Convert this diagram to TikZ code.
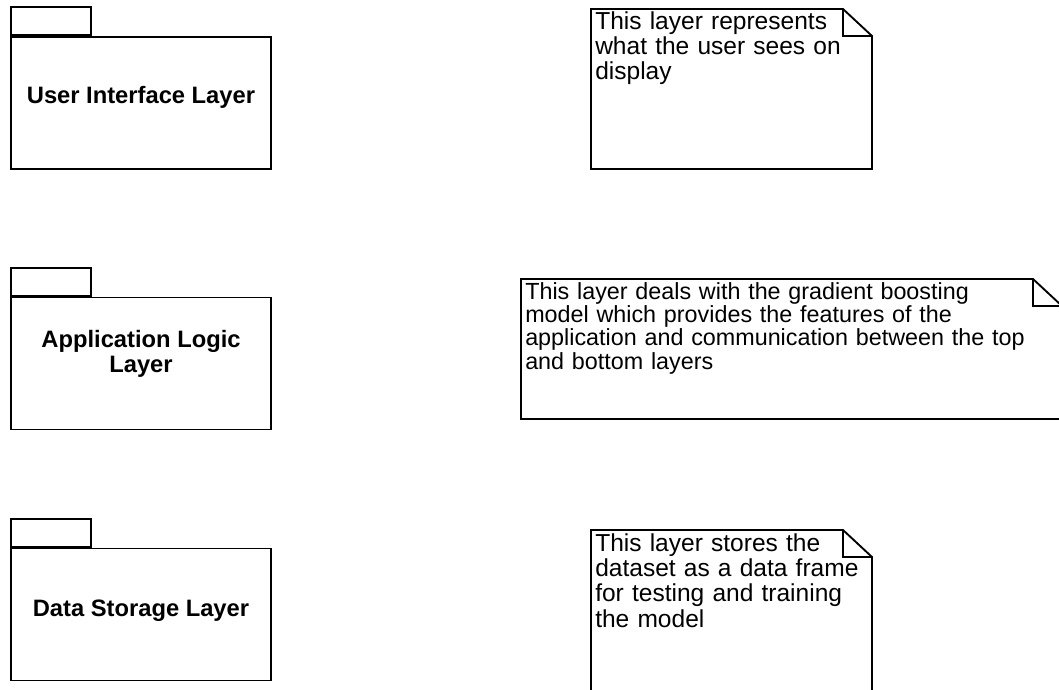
\documentclass[tikz,border=0pt]{standalone}
\usepackage{fontspec}
\setmainfont{Liberation Sans}
\begin{document}
\begin{tikzpicture}[x=0.75pt,y=-0.75pt,
  outline/.style={draw=black, line width=1.4pt, line join=miter},
  pkgbody/.style={outline, rectangle, inner sep=0pt, minimum width=195pt, minimum height=99pt},
  pkgtab/.style={outline, rectangle, inner sep=0pt, minimum width=60pt, minimum height=21pt, anchor=south west},
  pkglabel/.style={font=\fontsize{17.8pt}{19.1pt}\selectfont\bfseries, align=center, inner sep=0pt, anchor=base},
  notetext/.style={font=\fontsize{18.4pt}{19.1pt}\selectfont, text width=480pt, align=left, inner sep=0pt, anchor=base west},
  smallnotetext/.style={notetext, font=\fontsize{17.5pt}{17.6pt}\selectfont},
  notefold/.style={outline}
]
\clip (0,0) rectangle (1059,689);

% ---- packages (left column) ----
\node[pkgbody] (uibody) at (141,103) {};
\node[pkgtab] (uitab) at (uibody.north west) {};
\node[pkglabel] (uilabel) at (141,103.5) {User Interface Layer};

\node[pkgbody] (albody) at (141,363.5) {};
\node[pkgtab] (altab) at (albody.north west) {};
% two-line label: the base anchor sits on the last line
\node[pkglabel] (allabel) at (141,372.5) {Application Logic\\Layer};

\node[pkgbody] (dsbody) at (141,614.5) {};
\node[pkgtab] (dstab) at (dsbody.north west) {};
\node[pkglabel] (dslabel) at (141,616) {Data Storage Layer};

% ---- notes (right column) ----
% note for the user interface layer
\draw[outline] (591,9) -- (843,9) -- (872,36) -- (872,169) -- (591,169) -- cycle;
\draw[notefold] (843,9) -- (843,36) -- (872,36);
\node[notetext] (uinote) at (595,29) {This layer represents\\what the user sees on\\display};

% note for the application logic layer
\draw[outline] (521,279) -- (1033,279) -- (1062,306) -- (1062,419) -- (521,419) -- cycle;
\draw[notefold] (1033,279) -- (1033,306) -- (1062,306);
\node[smallnotetext] (alnote) at (525,299) {This layer deals with the gradient boosting\\model which provides the features of the\\application and communication between the top\\and bottom layers};

% note for the data storage layer
\draw[outline] (591,530) -- (843,530) -- (872,557) -- (872,700) -- (591,700) -- cycle;
\draw[notefold] (843,530) -- (843,557) -- (872,557);
\node[notetext] (dsnote) at (595,551) {This layer stores the\\dataset as a data frame\\for testing and training\\the model};
\end{tikzpicture}
\end{document}
